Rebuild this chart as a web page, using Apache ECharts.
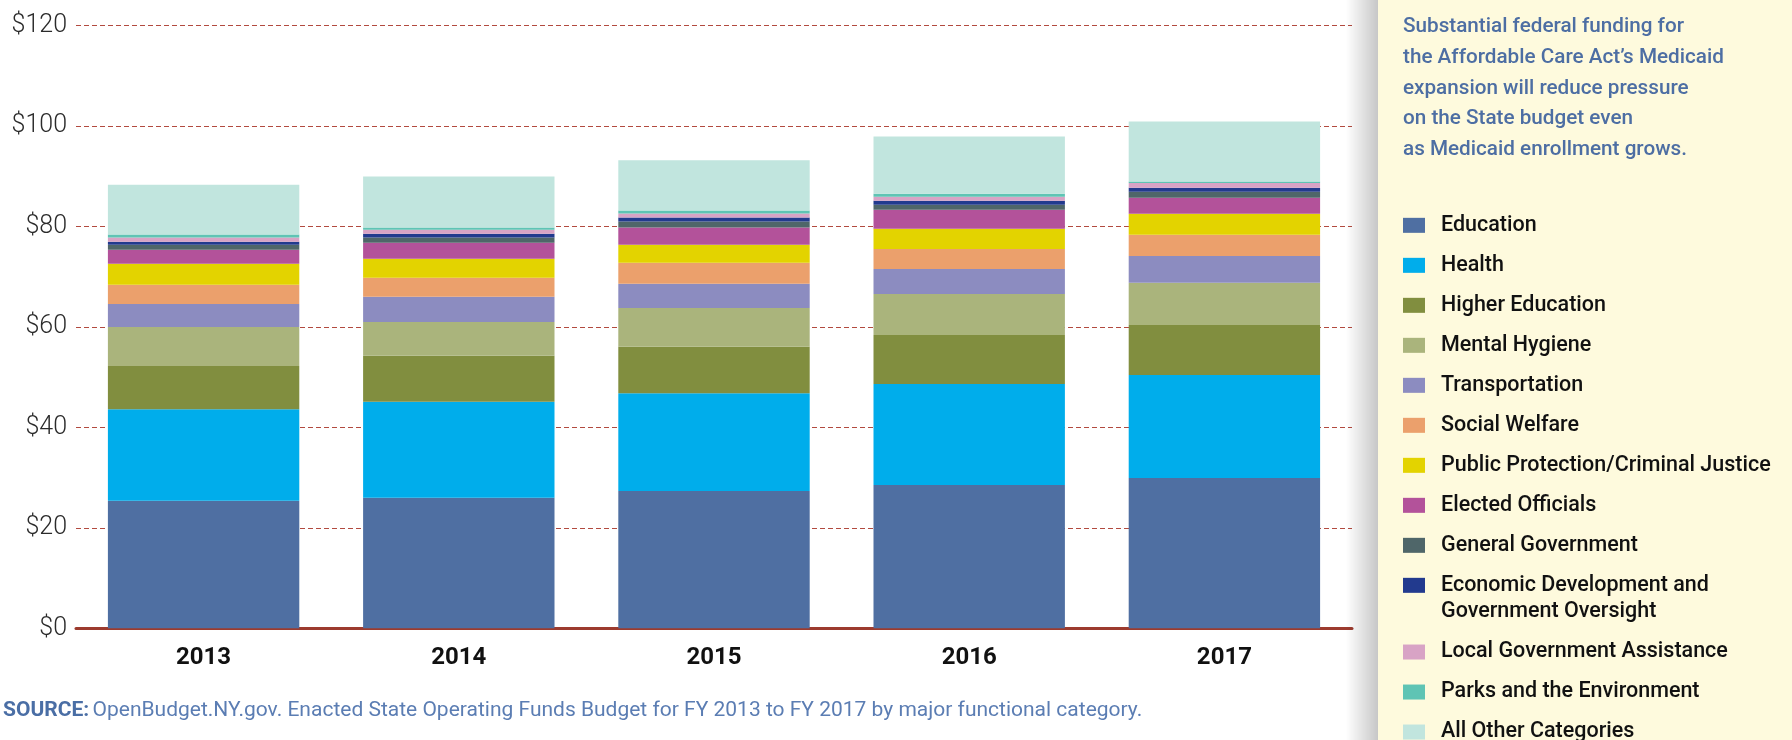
<!DOCTYPE html>
<html>
<head>
<meta charset="utf-8">
<style>
html,body{margin:0;padding:0;background:#fff;}
#chart{width:1792px;height:740px;}
</style>
<script src="https://cdn.jsdelivr.net/npm/echarts@6/dist/echarts.min.js"></script>
</head>
<body>
<div id="chart"></div>
<script>
const years = ['2013', '2014', '2015', '2016', '2017'];
const yTicks = [0, 20, 40, 60, 80, 100, 120];

const education        = [25.4, 26.0, 27.35, 28.55, 29.95];
const health           = [18.2, 19.1, 19.45, 20.1, 20.5];
const higherEducation  = [8.65, 9.15, 9.25, 9.75, 9.95];
const mentalHygiene    = [7.75, 6.75, 7.75, 8.15, 8.4];
const transportation   = [4.6, 5.0, 4.8, 5.0, 5.35];
const socialWelfare    = [3.8, 3.8, 4.2, 4.0, 4.2];
const publicProtection = [4.2, 3.8, 3.6, 4.0, 4.2];
const electedOfficials = [2.8, 3.2, 3.4, 3.8, 3.2];
const generalGov       = [1.0, 1.0, 1.2, 1.0, 1.2];
const econDev          = [0.6, 0.75, 0.8, 0.8, 0.8];
const localGov         = [0.8, 0.8, 0.8, 0.8, 0.95];
const parksEnv         = [0.6, 0.45, 0.6, 0.6, 0.25];
const allOther         = [9.95, 10.15, 10.0, 11.4, 11.95];

const seriesNames = ['Education', 'Health', 'Higher Education', 'Mental Hygiene', 'Transportation',
  'Social Welfare', 'Public Protection/Criminal Justice', 'Elected Officials', 'General Government',
  'Economic Development and Government Oversight', 'Local Government Assistance',
  'Parks and the Environment', 'All Other Categories'];
const seriesValues = [education, health, higherEducation, mentalHygiene, transportation, socialWelfare,
  publicProtection, electedOfficials, generalGov, econDev, localGov, parksEnv, allOther];
const colors = ['#4f6fa2', '#00adeb', '#818e3f', '#aab47c', '#8c8cc0', '#eba06c', '#e3d300',
  '#b3529a', '#4f6669', '#223a8e', '#d8a3c5', '#5fc4b4', '#c1e5de'];

const titleText = 'Substantial federal funding for\nthe Affordable Care Act\u2019s Medicaid\nexpansion will reduce pressure\non the State budget even\nas Medicaid enrollment grows.';
const sourceLabel = 'SOURCE:';
const sourceText = 'OpenBudget.NY.gov. Enacted State Operating Funds Budget for FY 2013 to FY 2017 by major functional category.';

const FONT = 'Roboto, "Noto Sans", sans-serif';
const LEG_FS = 21.5;
const legendText = {
  fontFamily: FONT, fontSize: LEG_FS, fontWeight: 500, color: '#111',
  lineHeight: 26.67, padding: [0, 0, 0, 11]
};
const richLine = {fontFamily: FONT, fontSize: LEG_FS, fontWeight: 500, color: '#111', lineHeight: 26.67};

const chart = echarts.init(document.getElementById('chart'), null, {renderer: 'canvas'});
chart.setOption({
  animation: false,
  color: colors,
  title: {
    text: titleText,
    left: 1403, top: 12, padding: 0, z: 10,
    textStyle: {fontFamily: FONT, fontSize: 20.7, fontWeight: 500, color: '#4d6ea3', lineHeight: 30.6}
  },
  legend: [
    {
      orient: 'vertical', left: 1403, top: 212, height: 500, padding: 0, itemGap: 13.33,
      itemWidth: 22, itemHeight: 15, selectedMode: false, z: 10,
      icon: 'rect',
      textStyle: legendText,
      formatter: function (n) {
        return n === seriesNames[9] ? '{e|Economic Development and}\n{e|Government Oversight}' : n;
      },
      data: seriesNames.slice(0, 9).concat([{
        name: seriesNames[9],
        textStyle: {padding: [0, 0, -26.67, 11], rich: {e: richLine}}
      }])
    },
    {
      orient: 'vertical', left: 1403, top: 638.7, height: 160, padding: 0, itemGap: 13.33,
      itemWidth: 22, itemHeight: 15, selectedMode: false, z: 10,
      icon: 'rect',
      textStyle: legendText,
      data: seriesNames.slice(10)
    }
  ],
  grid: {left: 76, right: 440, top: 25.7, bottom: 111.7, containLabel: false},
  xAxis: {
    type: 'category',
    data: years,
    axisTick: {show: false},
    axisLine: {lineStyle: {color: '#9c3b2e', width: 3}},
    axisLabel: {fontFamily: FONT, fontSize: 24, fontWeight: 'bold', color: '#111', margin: 18}
  },
  yAxis: {
    type: 'value',
    min: yTicks[0], max: yTicks[yTicks.length - 1], interval: 20,
    axisLine: {show: false},
    axisTick: {show: false},
    axisLabel: {
      fontFamily: FONT, fontSize: 25, fontWeight: 300, color: '#2b2b2b', margin: 9,
      formatter: function (v) { return '$' + v; }
    },
    splitLine: {lineStyle: {color: '#b24a3f', width: 1, type: [5, 3]}}
  },
  graphic: [
    {
      type: 'rect', z: 5, silent: true,
      shape: {x: 1346, y: 0, width: 32, height: 740},
      style: {
        fill: new echarts.graphic.LinearGradient(0, 0, 1, 0, [
          {offset: 0, color: 'rgba(0,0,0,0)'},
          {offset: 1, color: 'rgba(0,0,0,0.22)'}
        ])
      }
    },
    {
      type: 'rect', z: 5, silent: true,
      shape: {x: 1378, y: 0, width: 414, height: 740},
      style: {fill: '#fefadd'}
    },
    {
      type: 'text', z: 10, silent: true,
      left: 3, top: 700,
      style: {
        text: '{b|' + sourceLabel + '} {n|' + sourceText + '}',
        rich: {
          b: {fontFamily: FONT, fontSize: 21, fontWeight: 'bold', fill: '#4a6ea5'},
          n: {fontFamily: FONT, fontSize: 21, fontWeight: 400, fill: '#5b7db3'}
        }
      }
    }
  ],
  series: seriesNames.map(function (name, i) {
    return {
      name: name,
      type: 'bar',
      stack: 'total',
      barCategoryGap: '25%',
      data: seriesValues[i],
      itemStyle: {color: colors[i]}
    };
  })
});
</script>
</body>
</html>
